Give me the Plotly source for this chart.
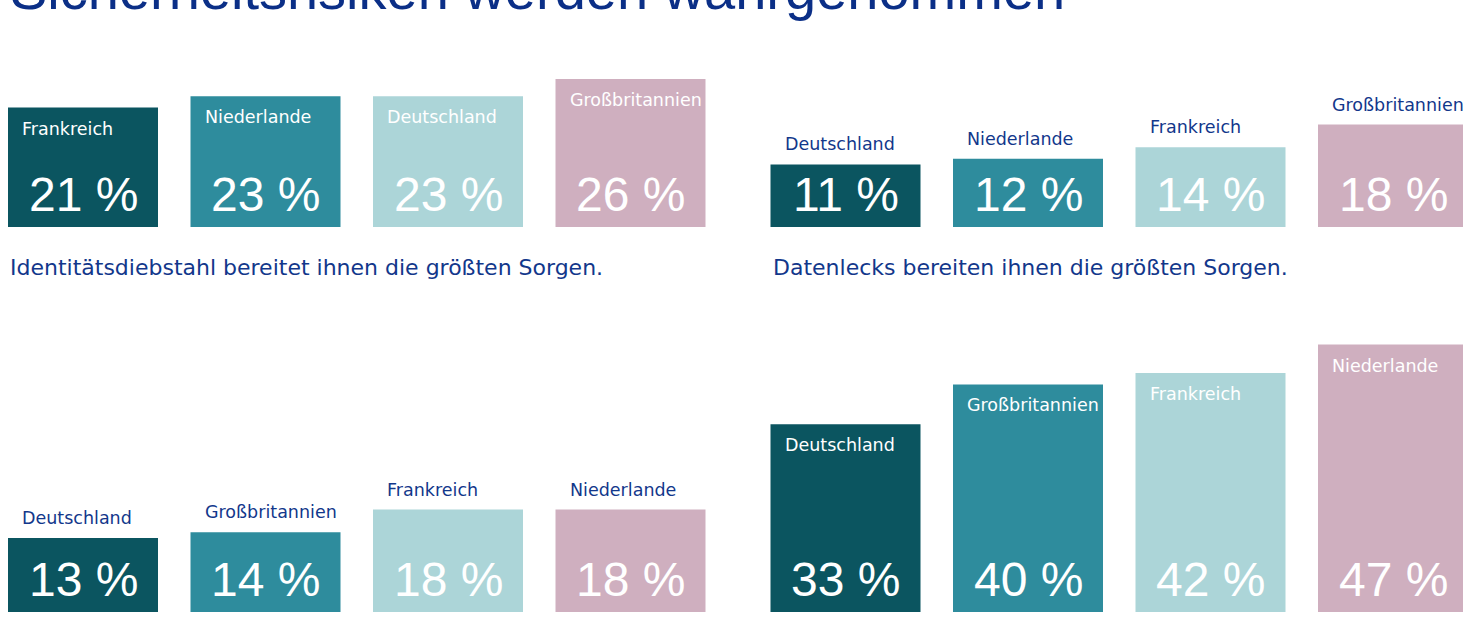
import plotly.graph_objects as go

# ---------------- data ----------------
title_text = "Sicherheitsrisiken werden wahrgenommen"
caption_left = "Identitätsdiebstahl bereitet ihnen die größten Sorgen."
caption_right = "Datenlecks bereiten ihnen die größten Sorgen."

tl_countries = ["Frankreich", "Niederlande", "Deutschland", "Großbritannien"]
tl_values = [21, 23, 23, 26]

tr_countries = ["Deutschland", "Niederlande", "Frankreich", "Großbritannien"]
tr_values = [11, 12, 14, 18]

bl_countries = ["Deutschland", "Großbritannien", "Frankreich", "Niederlande"]
bl_values = [13, 14, 18, 18]

br_countries = ["Deutschland", "Großbritannien", "Frankreich", "Niederlande"]
br_values = [33, 40, 42, 47]

bar_colors = ["#0b5560", "#2e8c9d", "#acd5d8", "#cfafbf"]

# ---------------- layout constants ----------------
W, H = 1463, 634
PX_PER_PCT = 5.69
PX_PER_CAT = 182.5
BAR_PX = 150
BLUE = "#12378b"
TITLE_BLUE = "#0b2f87"
NUM_FONT = "Liberation Sans, Arial, sans-serif"
TXT_FONT = "DejaVu Sans, Verdana, sans-serif"

panels = [
    dict(countries=tl_countries, values=tl_values, x_px=(0, 730), c0=83, y_px=(0, 227)),
    dict(countries=tr_countries, values=tr_values, x_px=(740, 1463), c0=845.5, y_px=(0, 227)),
    dict(countries=bl_countries, values=bl_values, x_px=(0, 730), c0=83, y_px=(300, 612)),
    dict(countries=br_countries, values=br_values, x_px=(740, 1463), c0=845.5, y_px=(300, 612)),
]

fig = go.Figure()
annotations = []
layout_axes = {}

for i, p in enumerate(panels):
    n = "" if i == 0 else str(i + 1)
    xref, yref = "x" + n, "y" + n
    x0, x1 = p["x_px"]
    y0, y1 = p["y_px"]
    fig.add_trace(go.Bar(
        x=p["countries"], y=p["values"],
        marker=dict(color=bar_colors, line=dict(width=0)),
        width=BAR_PX / PX_PER_CAT,
        xaxis=xref, yaxis=yref, showlegend=False, hoverinfo="x+y",
    ))
    layout_axes["xaxis" + n] = dict(
        domain=[x0 / W, x1 / W], type="category",
        categoryorder="array", categoryarray=p["countries"],
        range=[-(p["c0"] - x0) / PX_PER_CAT, (x1 - p["c0"]) / PX_PER_CAT],
        showgrid=False, zeroline=False, showline=False, showticklabels=False,
        ticks="", anchor=yref, fixedrange=True,
    )
    layout_axes["yaxis" + n] = dict(
        domain=[1 - y1 / H, 1 - y0 / H],
        range=[0, (y1 - y0) / PX_PER_PCT],
        showgrid=False, zeroline=False, showline=False, showticklabels=False,
        ticks="", anchor=xref, fixedrange=True,
    )
    for c, v in zip(p["countries"], p["values"]):
        annotations.append(dict(
            x=c, y=0, xref=xref, yref=yref, text=f"{v} %", showarrow=False,
            xanchor="center", yanchor="bottom", yshift=4,
            font=dict(family=NUM_FONT, size=48, color="white"),
        ))
        inside = v * PX_PER_PCT > 110
        annotations.append(dict(
            x=c, y=v, xref=xref, yref=yref, text=c, showarrow=False,
            xanchor="left", xshift=-BAR_PX / 2 + 12,
            yanchor="top" if inside else "bottom",
            yshift=-9 if inside else 8,
            font=dict(family=TXT_FONT, size=17.5, color="white" if inside else BLUE),
        ))

# captions under the top panels
for cap, p in [(caption_left, panels[0]), (caption_right, panels[1])]:
    left_px = p["c0"] - BAR_PX / 2
    annotations.append(dict(
        x=left_px / W, y=1 - 282 / H, xref="paper", yref="paper", text=cap,
        showarrow=False, xanchor="left", yanchor="bottom",
        font=dict(family=TXT_FONT, size=22, color=BLUE),
    ))

annotations.append(dict(
    x=8 / W, y=1 - 23 / H, xref="paper", yref="paper", text=title_text,
    showarrow=False, xanchor="left", yanchor="bottom",
    font=dict(family=NUM_FONT, size=56, color=TITLE_BLUE),
))

fig.update_layout(
    width=W, height=H,
    margin=dict(l=0, r=0, t=0, b=0),
    paper_bgcolor="white", plot_bgcolor="white",
    annotations=annotations,
    barmode="group",
    **layout_axes,
)

fig.write_html(
    "out.html",
    config={"displayModeBar": False},
    post_script="document.body.style.margin='0px';document.body.style.overflow='hidden';",
)
